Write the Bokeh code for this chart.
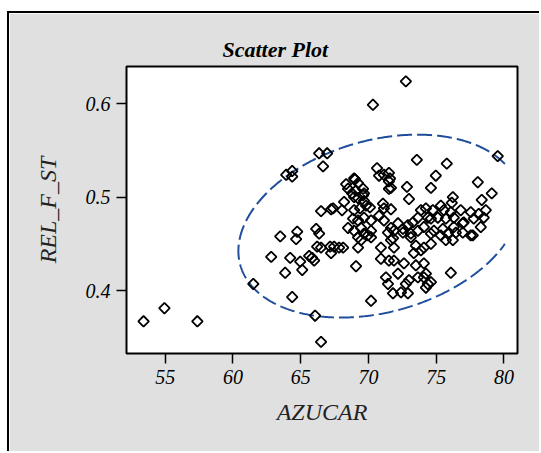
import numpy as np
from bokeh.plotting import figure
from bokeh.models import Range1d, FixedTicker, ColumnDataSource, Title
from bokeh.embed import file_html
from bokeh.resources import INLINE

# ---- data ----
AZUCAR = [
    53.40, 54.94, 57.37, 61.50, 66.50, 66.06, 64.37, 63.85, 62.82, 64.22,
    64.96, 65.11, 63.49, 64.74, 64.66, 66.14, 66.36, 65.62, 65.84, 65.99,
    66.21, 66.50, 67.17, 67.24, 67.83, 66.50, 67.24, 68.05, 63.93, 64.37,
    64.37, 66.36, 66.95, 66.65, 72.76, 70.33, 79.54, 73.57, 75.78, 74.97,
    74.61, 78.07, 79.10, 78.36, 76.23, 76.15, 72.84, 72.99, 70.63, 70.78,
    71.51, 71.59, 71.14, 71.66, 71.51, 71.51, 69.01, 68.35, 68.49, 68.94,
    69.23, 69.60, 69.67, 68.79, 69.08, 69.23, 69.60, 69.67, 68.20, 68.94,
    67.39, 68.94, 69.38, 69.82, 70.11, 71.07, 71.14, 71.66, 68.86, 69.23,
    69.67, 70.19, 70.78, 71.14, 68.49, 68.94, 69.45, 69.67, 69.97, 70.19,
    71.66, 72.18, 72.54, 72.91, 73.28, 73.65, 73.87, 74.24, 74.38, 71.44,
    71.88, 72.54, 73.13, 73.65, 74.09, 69.23, 70.19, 71.81, 74.75, 75.34,
    75.56, 76.08, 76.81, 77.55, 78.14, 78.66, 74.61, 75.12, 75.71, 76.30,
    77.03, 77.77, 78.51, 74.83, 75.49, 75.86, 76.30, 76.96, 78.29, 76.45,
    76.96, 77.70, 74.61, 69.45, 69.23, 67.46, 68.13, 70.92, 71.66, 71.88,
    73.13, 73.50, 73.87, 74.09, 70.92, 71.88, 72.62, 73.50, 73.35, 69.08,
    71.29, 71.44, 72.18, 72.76, 72.99, 71.81, 72.40, 72.91, 70.19, 74.24,
    74.38, 75.34, 75.71, 76.23, 77.55, 74.09, 74.61, 76.08, 74.61, 74.09,
    74.24, 73.65, 71.51,
]
REL_F_ST = [
    0.367, 0.381, 0.367, 0.407, 0.345, 0.373, 0.393, 0.419, 0.436, 0.435,
    0.431, 0.422, 0.458, 0.463, 0.455, 0.466, 0.461, 0.437, 0.435, 0.432,
    0.447, 0.446, 0.447, 0.440, 0.446, 0.485, 0.487, 0.486, 0.524, 0.528,
    0.522, 0.547, 0.547, 0.533, 0.624, 0.599, 0.544, 0.540, 0.536, 0.523,
    0.510, 0.516, 0.504, 0.497, 0.500, 0.494, 0.511, 0.498, 0.531, 0.523,
    0.526, 0.520, 0.524, 0.510, 0.509, 0.517, 0.519, 0.514, 0.509, 0.520,
    0.515, 0.509, 0.504, 0.504, 0.507, 0.499, 0.502, 0.496, 0.495, 0.500,
    0.488, 0.486, 0.488, 0.491, 0.489, 0.493, 0.488, 0.487, 0.477, 0.475,
    0.478, 0.475, 0.480, 0.475, 0.467, 0.464, 0.467, 0.461, 0.459, 0.464,
    0.467, 0.472, 0.466, 0.470, 0.473, 0.478, 0.486, 0.488, 0.478, 0.462,
    0.464, 0.462, 0.461, 0.464, 0.468, 0.457, 0.457, 0.456, 0.486, 0.491,
    0.486, 0.484, 0.486, 0.484, 0.482, 0.486, 0.477, 0.478, 0.477, 0.478,
    0.473, 0.477, 0.478, 0.464, 0.466, 0.461, 0.468, 0.472, 0.468, 0.462,
    0.462, 0.459, 0.461, 0.454, 0.446, 0.447, 0.446, 0.446, 0.454, 0.446,
    0.457, 0.448, 0.443, 0.429, 0.434, 0.432, 0.429, 0.427, 0.440, 0.426,
    0.414, 0.407, 0.418, 0.407, 0.411, 0.397, 0.398, 0.397, 0.389, 0.418,
    0.407, 0.459, 0.454, 0.454, 0.459, 0.446, 0.450, 0.419, 0.409, 0.414,
    0.403, 0.414, 0.432,
]
X_TICKS = [55, 60, 65, 70, 75, 80]
Y_TICKS = [0.4, 0.5, 0.6]

# prediction ellipse (centre and scaled covariance)
ELLIPSE_CENTER = [70.8, 0.469]
ELLIPSE_COV = [[108.2, 0.277], [0.277, 0.009604]]
ELLIPSE_XMAX = 80.1   # ellipse is clipped at the axis data limit

SERIF = "Liberation Serif"
BLUE = "#1F4E9C"
GRAY = "#E0E0E0"

p = figure(width=532, height=440, output_backend="svg", toolbar_location=None,
           x_range=Range1d(52.14, 81.0), y_range=Range1d(0.3325, 0.64),
           min_border_left=117, min_border_right=24, min_border_top=53,
           min_border_bottom=100, margin=(11, 0, 0, 7))
p.styles = {"border-top": "2px solid black", "border-left": "2px solid black"}
p.background_fill_color = "white"
p.border_fill_color = GRAY
p.outline_line_color = "black"
p.outline_line_width = 2
p.grid.visible = False

t = Title(text="Scatter Plot", align="left", offset=96,
          text_font=SERIF, text_font_size="22px", text_font_style="bold italic",
          text_color="black", standoff=10)
p.add_layout(t, "above")

for ax in (p.xaxis[0], p.yaxis[0]):
    ax.axis_line_color = None
    ax.major_tick_line_color = "black"
    ax.major_tick_line_width = 1.5
    ax.major_tick_out = 10
    ax.major_tick_in = 0
    ax.minor_tick_line_color = None
    ax.major_label_text_font = SERIF
    ax.major_label_text_font_size = "20px"
    ax.major_label_text_font_style = "italic"
    ax.major_label_text_color = "black"
    ax.major_label_standoff = 6
    ax.axis_label_text_font = SERIF
    ax.axis_label_text_font_size = "24px"
    ax.axis_label_text_font_style = "italic"
    ax.axis_label_text_color = "#222222"

p.xaxis[0].ticker = FixedTicker(ticks=X_TICKS)
p.yaxis[0].ticker = FixedTicker(ticks=Y_TICKS)
p.xaxis[0].axis_label = "AZUCAR"
p.yaxis[0].axis_label = "REL_F_ST"
p.xaxis[0].axis_label_standoff = 12
p.yaxis[0].axis_label_standoff = 22

# ellipse
tt = np.linspace(0, 2 * np.pi, 721)
L = np.linalg.cholesky(np.array(ELLIPSE_COV))
pts = L @ np.vstack([np.cos(tt), np.sin(tt)])
ex = ELLIPSE_CENTER[0] + pts[0]
ey = ELLIPSE_CENTER[1] + pts[1]
mask = ex > ELLIPSE_XMAX
ex = np.where(mask, np.nan, ex)
ey = np.where(mask, np.nan, ey)
p.line(ex, ey, line_color=BLUE, line_width=2, line_dash="15 5")

src = ColumnDataSource(dict(x=AZUCAR, y=REL_F_ST))
p.scatter("x", "y", source=src, marker="square", size=7.5, angle=np.pi / 4,
          fill_color=None, line_color="black", line_width=1.8)

open("out.html", "w").write(file_html(p, INLINE))
